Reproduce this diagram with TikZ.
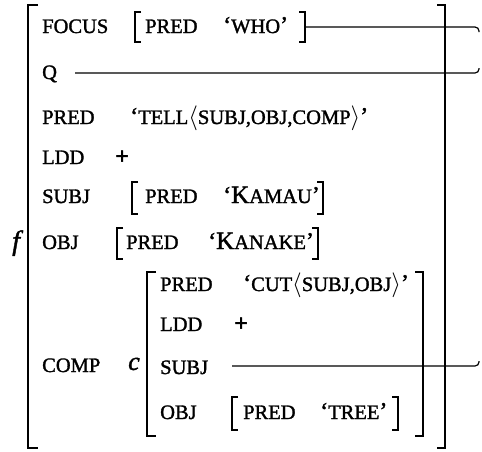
\documentclass[tikz,border=0pt]{standalone}
\usepackage{fontspec}
\setmainfont{Liberation Serif}[FakeBold=1.5]
\newcommand\smc[1]{{\fontsize{20.5}{20.5}\selectfont #1}}
\newcommand\bigK{{\fontsize{25}{25}\selectfont K}}
\begin{document}
\begin{tikzpicture}[x=1pt,y=-1pt,
  txt/.style={inner sep=0pt,anchor=base west,font=\fontsize{24}{24}\selectfont},
  brk/.style={line width=1.6pt},
  link/.style={line width=1.2pt,rounded corners=4pt}]
\useasboundingbox (0,0) rectangle (482,451);
% outer f-structure brackets
\draw[brk] (38,5) -- (28,5) -- (28,448) -- (38,448);
\draw[brk] (437,5) -- (445,5) -- (445,448) -- (437,448);
\node[txt,font=\fontsize{28}{28}\selectfont\itshape] (f) at (12,250) {f};
% FOCUS
\node[txt] (focus) at (42,33) {\smc{FOCUS}};
\draw[brk] (141,12) -- (135,12) -- (135,42) -- (141,42);
\node[txt] (fpred) at (145,33) {\smc{PRED}};
\node[txt] (fwho) at (223,33) {`\smc{WHO}'};
\draw[brk] (299,12) -- (305,12) -- (305,42) -- (299,42);
\coordinate (fR) at (305,27);
\coordinate (h1) at (479,32);
\draw[link] (fR) -| (h1);
% Q
\node[txt] (q) at (42,79) {\smc{Q}};
\coordinate (qR) at (75,73);
\coordinate (h2) at (479,68);
\draw[link] (qR) -| (h2);
% PRED
\node[txt] (pred) at (42,124) {\smc{PRED}};
\node[txt] (tell) at (130,124) {`\smc{TELL}$\langle$\smc{SUBJ,OBJ,COMP}$\rangle$'};
% LDD
\node[txt] (ldd) at (42,164) {\smc{LDD}};
\node[txt] (lddv) at (115,164) {\textbf{+}};
% SUBJ
\node[txt] (subj) at (42,203) {\smc{SUBJ}};
\draw[brk] (138,182) -- (132,182) -- (132,214) -- (138,214);
\node[txt] (spred) at (145,203) {\smc{PRED}};
\node[txt] (kamau) at (223,203) {`\bigK\smc{AMAU}'};
\draw[brk] (317,182) -- (323,182) -- (323,214) -- (317,214);
% OBJ
\node[txt] (obj) at (42,249) {\smc{OBJ}};
\draw[brk] (123,228) -- (117,228) -- (117,259) -- (123,259);
\node[txt] (opred) at (126,249) {\smc{PRED}};
\node[txt] (kanake) at (208,249) {`\bigK\smc{ANAKE}'};
\draw[brk] (312,228) -- (318,228) -- (318,259) -- (312,259);
% COMP
\node[txt] (comp) at (42,372) {\smc{COMP}};
\node[txt,font=\fontsize{26}{26}\selectfont\itshape] (c) at (128,370) {c};
\draw[brk] (156,272) -- (147,272) -- (147,436) -- (156,436);
\draw[brk] (415,272) -- (423,272) -- (423,436) -- (415,436);
\node[txt] (cpred) at (160,291) {\smc{PRED}};
\node[txt] (cut) at (243,291) {`\smc{CUT}$\langle$\smc{SUBJ,OBJ}$\rangle$'};
\node[txt] (cldd) at (160,331) {\smc{LDD}};
\node[txt] (clddv) at (234,331) {\textbf{+}};
\node[txt] (csubj) at (160,374) {\smc{SUBJ}};
\coordinate (sR) at (232,366);
\coordinate (h3) at (479,361);
\draw[link] (sR) -| (h3);
\node[txt] (cobj) at (160,419) {\smc{OBJ}};
\draw[brk] (238,397) -- (232,397) -- (232,430) -- (238,430);
\node[txt] (cpred2) at (243,419) {\smc{PRED}};
\node[txt] (tree) at (320,419) {`\smc{TREE}'};
\draw[brk] (392,397) -- (398,397) -- (398,430) -- (392,430);
\end{tikzpicture}
\end{document}
